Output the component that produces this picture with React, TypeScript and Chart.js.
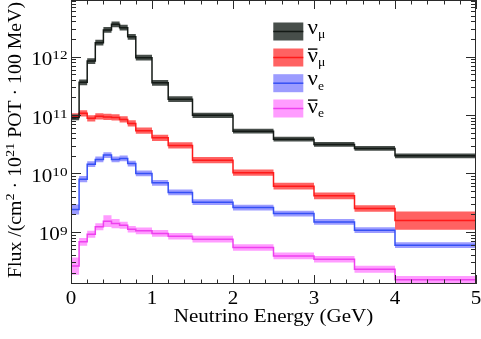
import React, { useEffect, useRef } from "react";
import { Chart, registerables } from "chart.js";

Chart.register(...registerables);

// ---- data ----
const binEdges = [0, 0.1, 0.2, 0.3, 0.4, 0.5, 0.6, 0.7, 0.8, 1.0, 1.2, 1.5, 2.0, 2.5, 3.0, 3.5, 4.0, 5.0];

const numuFlux = [9.1e10, 3.63e11, 8.4e11, 1.73e12, 2.86e12, 3.58e12, 3.13e12, 2.19e12, 9.6e11, 3.57e11, 1.87e11, 9.9e10, 5.3e10, 3.87e10, 3.14e10, 2.68e10, 2.0e10];
const numuErr = [0.12, 0.12, 0.12, 0.12, 0.12, 0.12, 0.12, 0.12, 0.12, 0.12, 0.12, 0.11, 0.1, 0.1, 0.1, 0.1, 0.1];

const numubarFlux = [9.5e10, 1.07e11, 8.8e10, 9.5e10, 9.3e10, 9.1e10, 8.4e10, 7.2e10, 5.4e10, 4.07e10, 3.02e10, 1.69e10, 1.03e10, 6.06e9, 4.14e9, 2.51e9, 1.56e9];
const numubarErr = [0.13, 0.13, 0.13, 0.13, 0.13, 0.13, 0.13, 0.13, 0.13, 0.13, 0.13, 0.13, 0.13, 0.14, 0.14, 0.14, 0.43];

const nueFlux = [2.42e9, 7.98e9, 1.44e10, 1.74e10, 2.06e10, 1.74e10, 1.81e10, 1.48e10, 1.0e10, 6.9e9, 4.72e9, 3.22e9, 2.61e9, 2.06e9, 1.48e9, 1.07e9, 5.9e8];
const nueErr = [0.22, 0.13, 0.12, 0.12, 0.12, 0.12, 0.12, 0.12, 0.12, 0.12, 0.12, 0.12, 0.12, 0.12, 0.12, 0.12, 0.12];

const nuebarFlux = [2.59e8, 6.74e8, 9.1e8, 1.22e9, 1.52e9, 1.39e9, 1.3e9, 1.11e9, 1.04e9, 9.4e8, 8.4e8, 7.5e8, 5.4e8, 3.87e8, 3.4e8, 2.29e8, 1.52e8];
const nuebarErr = [0.4, 0.16, 0.15, 0.15, 0.26, 0.2, 0.15, 0.14, 0.14, 0.14, 0.14, 0.14, 0.14, 0.14, 0.14, 0.15, 0.15];

const xTickLabels = ["0", "1", "2", "3", "4", "5"];
const yDecadeExponents = [9, 10, 11, 12];

const xTitle = "Neutrino Energy (GeV)";
const yTitleRuns: { t: string; sup: boolean }[] = [
  { t: "Flux /(cm", sup: false },
  { t: "2", sup: true },
  { t: " \u00b7 10", sup: false },
  { t: "21", sup: true },
  { t: " POT \u00b7 100 MeV)", sup: false },
];

const series = [
  { name: "\u03bd", sub: "\u03bc", bar: false, flux: numuFlux, err: numuErr, line: "#141a16", band: "#474e4a" },
  { name: "\u03bd", sub: "\u03bc", bar: true, flux: numubarFlux, err: numubarErr, line: "#ff1a1a", band: "#ff6262" },
  { name: "\u03bd", sub: "e", bar: false, flux: nueFlux, err: nueErr, line: "#3550f5", band: "#9c9cff" },
  { name: "\u03bd", sub: "e", bar: true, flux: nuebarFlux, err: nuebarErr, line: "#ee40ee", band: "#ff9cff" },
];

const FONT = '"Liberation Serif", "Times New Roman", serif';
const FS = 18;
const SX = 1.17;
const YSX = 1.1;

function stepPoints(vals: number[]) {
  const pts = vals.map((v, i) => ({ x: binEdges[i], y: v }));
  pts.push({ x: binEdges[binEdges.length - 1], y: vals[vals.length - 1] });
  return pts;
}

function drawText(ctx: CanvasRenderingContext2D, text: string, x: number, y: number, size: number, sx: number, align: string) {
  ctx.save();
  ctx.font = `${size}px ${FONT}`;
  const w = ctx.measureText(text).width * sx;
  const x0 = align === "center" ? x - w / 2 : align === "right" ? x - w : x;
  ctx.translate(x0, y);
  ctx.scale(sx, 1);
  ctx.textAlign = "left";
  ctx.textBaseline = "alphabetic";
  ctx.fillText(text, 0, 0);
  ctx.restore();
  return w;
}

function measure(ctx: CanvasRenderingContext2D, text: string, size: number, sx: number) {
  ctx.save();
  ctx.font = `${size}px ${FONT}`;
  const w = ctx.measureText(text).width * sx;
  ctx.restore();
  return w;
}

const decorPlugin = {
  id: "decor",
  afterDraw(chart: any) {
    const ctx: CanvasRenderingContext2D = chart.ctx;
    const { left, right, top, bottom } = chart.chartArea;
    const xs = chart.scales.x;
    const ys = chart.scales.y;
    ctx.save();
    ctx.strokeStyle = "#2a2a2a";
    ctx.lineWidth = 1;
    // frame
    ctx.strokeRect(Math.round(left) + 0.5, Math.round(top) + 0.5, Math.round(right - left) - 1, Math.round(bottom - top) - 1);
    // x ticks
    ctx.beginPath();
    for (let k = 0; k <= 25; k++) {
      const v = k * 0.2;
      const px = Math.round(xs.getPixelForValue(v)) + 0.5;
      const major = k % 5 === 0;
      const len = major ? 9 : 4.5;
      ctx.moveTo(px, bottom);
      ctx.lineTo(px, bottom - len);
      ctx.moveTo(px, top);
      ctx.lineTo(px, top + len);
    }
    // y ticks
    for (let e = 8; e <= 12; e++) {
      for (let m = 1; m <= 9; m++) {
        const v = m * Math.pow(10, e);
        if (v < ys.min || v > ys.max) continue;
        const py = Math.round(ys.getPixelForValue(v)) + 0.5;
        const len = m === 1 ? 10 : 5;
        ctx.moveTo(left, py);
        ctx.lineTo(left + len, py);
        ctx.moveTo(right, py);
        ctx.lineTo(right - len, py);
      }
    }
    ctx.stroke();

    ctx.fillStyle = "#000";
    // x tick labels
    xTickLabels.forEach((lab) => {
      const px = xs.getPixelForValue(Number(lab));
      drawText(ctx, lab, px, bottom + 19.5, FS, SX, "center");
    });
    // x title
    drawText(ctx, xTitle, (left + right) / 2, bottom + 38, FS, SX, "center");

    // y tick labels
    yDecadeExponents.forEach((e) => {
      const py = ys.getPixelForValue(Math.pow(10, e));
      const expStr = String(e);
      const wBase = measure(ctx, "10", FS, SX);
      const wExp = measure(ctx, expStr, 13, SX);
      const xEnd = left - 3.5;
      const x0 = xEnd - wExp - wBase;
      drawText(ctx, "10", x0, py + 8.5, FS, SX, "left");
      drawText(ctx, expStr, x0 + wBase, py + 2.8, 13, SX, "left");
    });

    // y title (rotated)
    ctx.save();
    const cy = (top + bottom) / 2 - 2;
    ctx.translate(20.5, cy);
    ctx.rotate(-Math.PI / 2);
    let total = 0;
    yTitleRuns.forEach((r) => {
      total += measure(ctx, r.t, r.sup ? 13 : FS, YSX);
    });
    let cx = -total / 2;
    yTitleRuns.forEach((r) => {
      const size = r.sup ? 13 : FS;
      cx += drawText(ctx, r.t, cx, r.sup ? -6.5 : 0, size, YSX, "left");
    });
    ctx.restore();

    // legend
    const boxL = 273.3;
    const boxW = 30;
    const boxH = 18;
    const rowCenters = [31.5, 57.5, 83.2, 108.5];
    series.forEach((s, i) => {
      const cyR = rowCenters[i];
      ctx.fillStyle = s.band;
      ctx.fillRect(boxL, cyR - boxH / 2, boxW, boxH);
      ctx.strokeStyle = s.line;
      ctx.lineWidth = 1.5;
      ctx.beginPath();
      ctx.moveTo(boxL, cyR);
      ctx.lineTo(boxL + boxW, cyR);
      ctx.stroke();
      ctx.fillStyle = "#000";
      const base = cyR + (s.bar ? 4 : 2);
      const tx = 307.5;
      const wNu = drawText(ctx, s.name, tx, base, 22, 1.05, "left");
      drawText(ctx, s.sub, tx + wNu, base + 4.3, 13, 1.05, "left");
      if (s.bar) {
        ctx.strokeStyle = "#000";
        ctx.lineWidth = 1.4;
        ctx.beginPath();
        ctx.moveTo(tx + 0.5, base - 12.4);
        ctx.lineTo(tx + wNu - 0.5, base - 12.4);
        ctx.stroke();
      }
    });
    ctx.restore();
  },
};

export default function App() {
  const ref = useRef<HTMLCanvasElement | null>(null);
  useEffect(() => {
    if (!ref.current) return;
    const datasets: any[] = [];
    series.forEach((s) => {
      datasets.push({
        label: s.name + s.sub + (s.bar ? " bar" : ""),
        data: stepPoints(s.flux),
        borderColor: s.line,
        borderWidth: 1.5,
        backgroundColor: s.line,
        stepped: "before",
        pointRadius: 0,
        fill: false,
        order: 1,
      });
    });
    series.forEach((s) => {
      const upIndex = datasets.length;
      datasets.push({
        label: "up",
        data: stepPoints(s.flux.map((v, i) => v * (1 + s.err[i]))),
        borderColor: "rgba(0,0,0,0)",
        borderWidth: 0,
        stepped: "before",
        pointRadius: 0,
        fill: false,
        order: 5,
      });
      datasets.push({
        label: "down",
        data: stepPoints(s.flux.map((v, i) => v / (1 + s.err[i]))),
        borderColor: "rgba(0,0,0,0)",
        borderWidth: 0,
        backgroundColor: s.band,
        stepped: "before",
        pointRadius: 0,
        fill: { target: upIndex },
        order: 5,
      });
    });

    const chart = new Chart(ref.current, {
      type: "line",
      data: { datasets },
      options: {
        responsive: true,
        maintainAspectRatio: false,
        animation: false,
        layout: { padding: { left: 0, right: 5, top: 0, bottom: 0 } },
        plugins: {
          legend: { display: false },
          tooltip: { enabled: false },
        },
        scales: {
          x: {
            type: "linear",
            min: 0,
            max: 5,
            ticks: { display: false },
            grid: { display: false },
            border: { display: false },
            afterFit: (s: any) => {
              s.height = 55;
            },
          },
          y: {
            type: "logarithmic",
            min: 1.28e8,
            max: 9.33e12,
            ticks: { display: false },
            grid: { display: false },
            border: { display: false },
            afterFit: (s: any) => {
              s.width = 71;
            },
          },
        },
      },
      plugins: [decorPlugin],
    } as any);
    return () => chart.destroy();
  }, []);

  return (
    <div style={{ position: "fixed", left: 0, top: 0, width: 481, height: 339, background: "#fff" }}>
      <canvas ref={ref} />
    </div>
  );
}
